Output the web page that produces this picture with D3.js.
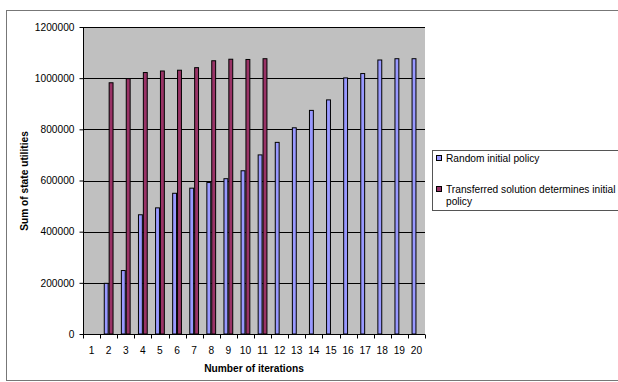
<!DOCTYPE html>
<html><head><meta charset="utf-8">
<script src="https://cdn.jsdelivr.net/npm/d3@7"></script>
<style>body{margin:0;background:#fff}svg{display:block;font-family:"Liberation Sans",Arial,sans-serif}</style>
</head><body><svg id="c" width="618" height="382"></svg>
<script>
const categories = ["1","2","3","4","5","6","7","8","9","10","11","12","13","14","15","16","17","18","19","20"];
const randomPolicy = [0,200000,250000,468000,495000,552000,572000,594000,609000,640000,702000,751000,808000,876000,917000,1003000,1020000,1073000,1078000,1078000];
const transferredPolicy = [0,984000,1000000,1024000,1030000,1033000,1043000,1070000,1076000,1075000,1078000,null,null,null,null,null,null,null,null,null];
const seriesNames = ["Random initial policy","Transferred solution determines initial policy"];
const seriesColors = ["#9999ff","#993366"];
const yTicks = [0,200000,400000,600000,800000,1000000,1200000];

const FS = 10.2;
const svg = d3.select("#c");
const L = 83, R = 425, T = 27, B = 334;

svg.append("rect").attr("x",6.5).attr("y",10.5).attr("width",620).attr("height",370)
  .attr("fill","none").attr("stroke","#777").attr("stroke-width",1);

const x0 = d3.scaleBand().domain(categories).range([L,R]).padding(0);
const x1 = d3.scaleBand().domain([0,1]).range([0,x0.bandwidth()]).paddingInner(0).paddingOuter(0.75);
const y = d3.scaleLinear().domain([0,1200000]).range([B,T]);

svg.append("rect").attr("x",L).attr("y",T).attr("width",R-L).attr("height",B-T).attr("fill","#c0c0c0");

// gridlines
svg.append("g").selectAll("line").data(yTicks.slice(1)).join("line")
  .attr("x1",L).attr("x2",R).attr("y1",d=>Math.round(y(d))+0.5).attr("y2",d=>Math.round(y(d))+0.5)
  .attr("stroke","#000").attr("stroke-width",1);

// bars
const data = categories.map((c,i)=>({c, v:[randomPolicy[i], transferredPolicy[i]]}));
const g = svg.append("g");
data.forEach(d=>{
  d.v.forEach((v,s)=>{
    if(v==null||v===0) return;
    g.append("rect")
      .attr("x",x0(d.c)+x1(s)+0.5)
      .attr("y",y(v)+0.5)
      .attr("width",x1.bandwidth()-1)
      .attr("height",B-y(v)-0.5)
      .attr("fill",seriesColors[s]).attr("stroke","#000").attr("stroke-width",1);
  });
});

// y axis
const yAxis = d3.axisLeft(y).tickValues(yTicks).tickSize(4).tickFormat(d3.format("d"));
const ya = svg.append("g").attr("transform",`translate(${L+0.5},0)`).call(yAxis);
ya.select(".domain").attr("d",`M0,${T}V${B}`);
ya.selectAll("text").attr("font-size",FS).attr("font-family","Liberation Sans, Arial").attr("fill","#000").attr("x",-9);

// x axis
const xa = svg.append("g").attr("transform",`translate(0,${B+0.5})`);
xa.append("line").attr("x1",L).attr("x2",R).attr("stroke","#000");
const boundaries = categories.map(c=>x0(c)).concat([R]);
xa.selectAll("line.t").data(boundaries).join("line").attr("class","t")
  .attr("x1",d=>Math.round(d)+0.5).attr("x2",d=>Math.round(d)+0.5).attr("y1",0).attr("y2",4).attr("stroke","#000");
xa.selectAll("text").data(categories).join("text")
  .attr("x",d=>x0(d)+x0.bandwidth()/2).attr("y",19.5).attr("text-anchor","middle")
  .attr("font-size",FS).text(d=>d);

// axis titles
svg.append("text").attr("x",254).attr("y",371.5).attr("text-anchor","middle")
  .attr("font-size",FS).attr("font-weight","bold").text("Number of iterations");
svg.append("text").attr("transform","translate(28,181) rotate(-90)").attr("text-anchor","middle")
  .attr("font-size",FS).attr("font-weight","bold").text("Sum of state utilities");

// legend
const lg = svg.append("g");
lg.append("rect").attr("x",432.5).attr("y",150.5).attr("width",190).attr("height",60)
  .attr("fill","#fff").attr("stroke","#555");
lg.append("rect").attr("x",436.5).attr("y",155.5).attr("width",5).attr("height",5)
  .attr("fill",seriesColors[0]).attr("stroke","#000");
lg.append("text").attr("x",446).attr("y",162).attr("font-size",FS).text(seriesNames[0]);
lg.append("rect").attr("x",436.5).attr("y",186.5).attr("width",5).attr("height",5)
  .attr("fill",seriesColors[1]).attr("stroke","#000");
lg.append("text").attr("x",446).attr("y",193).attr("font-size",FS).text("Transferred solution determines initial");
lg.append("text").attr("x",446).attr("y",205).attr("font-size",FS).text("policy");
</script></body></html>
